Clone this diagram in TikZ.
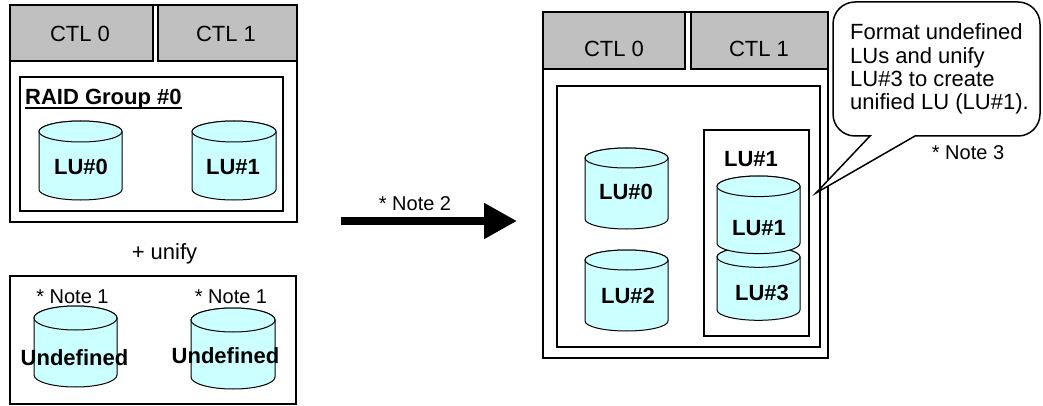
\documentclass[tikz,border=0pt]{standalone}
\usepackage{fontspec}
\setmainfont{Liberation Sans}
\usetikzlibrary{arrows.meta,calc}
\definecolor{ctlgray}{HTML}{C0C0C0}
\definecolor{lucyan}{HTML}{CCFFFF}
% cylinder: centre x, top-ellipse centre y, bottom-ellipse centre y, x radius, y radius
\newcommand\lucyl[5]{%
  \filldraw[cylline] ({#1-#4},#2) -- ({#1-#4},#3)
     arc[start angle=180,end angle=0,x radius=#4,y radius=#5]
     -- ({#1+#4},#2)
     arc[start angle=0,end angle=-180,x radius=#4,y radius=#5] -- cycle;
  \filldraw[cylline] (#1,#2) ellipse[x radius=#4,y radius=#5];}
\begin{document}
\begin{tikzpicture}[x=1pt,y=-1pt,
  box/.style={draw,line width=2pt,fill=white},
  lowbox/.style={draw,line width=1.6pt,fill=white},
  ctl/.style={draw,line width=2pt,fill=ctlgray},
  inbox/.style={draw,line width=1.4pt},
  cylline/.style={draw=black,fill=lucyan,line width=1pt},
  lbl/.style={inner sep=0pt,anchor=base,font=\fontsize{22}{24}\selectfont},
  blbl/.style={inner sep=0pt,anchor=base,font=\fontsize{22}{24}\selectfont\bfseries},
  note/.style={inner sep=0pt,anchor=base,font=\fontsize{20}{22}\selectfont},
  bigarrow/.style={line width=8pt,-{Triangle[length=33pt,width=34pt]}},
  callout/.style={draw,line width=1.5pt,fill=white}]
\useasboundingbox (0,0) rectangle (1043,406);

% ---------- left: before ----------
\draw[box] (10,5) rectangle (297,222);
\draw[ctl] (10,5) rectangle (153,61);
\draw[ctl] (158,5) rectangle (297,61);
\draw[inbox] (20,77) rectangle (283,211);
\lucyl{80.5}{131.5}{189.5}{41.5}{10.5}
\lucyl{234}{131.5}{189.5}{42}{10.5}
\node[lbl] (lctl0) at (80,41.7) {CTL 0};
\node[lbl] (lctl1) at (226,41.7) {CTL 1};
\node[blbl,anchor=base west] (rg) at (25,105) {RAID Group \#0};
\draw[line width=1.5pt] ($(rg.base west)+(0,3.2)$) -- ($(rg.base east)+(0,3.2)$);
\node[blbl] (llu0) at (81,175) {LU\#0};
\node[blbl] (llu1) at (233,175) {LU\#1};

\node[lbl] (unify) at (164.5,259.5) {+ unify};
\draw[lowbox] (10,276) rectangle (296,404);
\lucyl{75.5}{318}{375}{41.5}{12}
\lucyl{233}{320}{377}{42}{12}
\node[note] (n1a) at (72.5,303.3) {* Note 1};
\node[note] (n1b) at (231,303.3) {* Note 1};
\node[blbl] (und1) at (74.5,365) {Undefined};
\node[blbl] (und2) at (225.5,363.3) {Undefined};

% ---------- arrow ----------
\coordinate (astart) at (341,221);
\coordinate (aend) at (517,221);
\draw[bigarrow] (astart) -- (aend);
\node[note] (n2) at (415,210.7) {* Note 2};

% ---------- right: after ----------
\draw[box] (543,12) rectangle (828,358);
\draw[ctl] (543,12) rectangle (685,69);
\draw[ctl] (691,12) rectangle (828,69);
\draw[inbox] (557,86) rectangle (820,347);
\draw[inbox] (704,130) rectangle (809,336);
\lucyl{626.5}{158}{219}{41.5}{10}
\lucyl{626.5}{260}{321}{41.5}{10}
\lucyl{758.5}{257}{310}{41.5}{10.3}
\lucyl{758.5}{186.3}{243.3}{41.5}{10.3}
\node[lbl] (rctl0) at (614,56.7) {CTL 0};
\node[lbl] (rctl1) at (759,56.7) {CTL 1};
\node[blbl] (grp1) at (751,166.7) {LU\#1};
\node[blbl] (rlu0) at (626,200) {LU\#0};
\node[blbl] (rlu2) at (628,303.3) {LU\#2};
\node[blbl] (rlu1) at (759,235) {LU\#1};
\node[blbl] (rlu3) at (762,300) {LU\#3};

% ---------- callout ----------
\coordinate (tip) at (816,193);
\draw[callout] (833,24) arc[start angle=180,end angle=270,radius=22]
  -- (1018,2) arc[start angle=270,end angle=360,radius=22]
  -- (1040,114) arc[start angle=0,end angle=90,radius=22]
  -- (915,136) -- (tip) -- (870,136)
  -- (855,136) arc[start angle=90,end angle=180,radius=22] -- cycle;
\node[lbl,anchor=base west] (cl1) at (850,40) {Format undefined};
\node[lbl,anchor=base west] (cl2) at (850,63.3) {LUs and unify};
\node[lbl,anchor=base west] (cl3) at (850,86.7) {LU\#3 to create};
\node[lbl,anchor=base west] (cl4) at (850,110) {unified LU (LU\#1).};
\node[note] (n3) at (968,160) {* Note 3};
\end{tikzpicture}
\end{document}
